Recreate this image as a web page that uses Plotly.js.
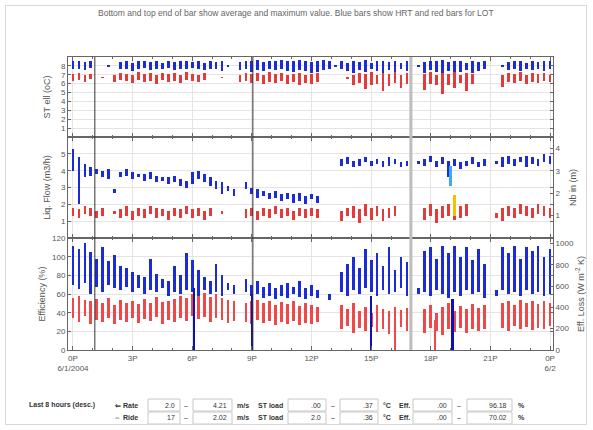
<!DOCTYPE html>
<html>
<head>
<meta charset="utf-8">
<script src="https://cdn.plot.ly/plotly-3.0.1.min.js"></script>
<style>
  html, body { margin:0; padding:0; background:#fff; }
  #wrap { position:relative; width:593px; height:430px; }
  #chart { width:593px; height:430px; }
  #frame { position:absolute; left:5px; top:5px; width:580px; height:418px; border:1px solid #d8d8d8; pointer-events:none; }
</style>
</head>
<body>
<div id="wrap"><div id="chart"></div><div id="frame"></div></div>
<script>
// ---------- DATA ----------
const hours = [0,0.3,0.6,0.9,1.2,1.5,1.8,2.1,2.4,2.7,
  3,3.3,3.6,3.9,4.2,4.5,4.8,5.1,5.4,5.7,
  6,6.3,6.6,6.9,7.2,7.5,7.8,8.1,8.4,8.7,
  9,9.3,9.6,9.9,10.2,10.5,10.8,11.1,11.4,11.7,
  12,12.3,12.6,12.9,13.2,13.5,13.8,14.1,14.4,14.7,
  15,15.3,15.6,15.9,16.2,16.5,16.8,17.1,17.4,17.7,
  18,18.3,18.6,18.9,19.2,19.5,19.8,20.1,20.4,20.7,
  21,21.3,21.6,21.9,22.2,22.5,22.8,23.1,23.4,23.7,
  24];

// Panel 1: ST ell (oC)
const blue1Avg = [7.6,7.7,7.5,7.8,null,null,7.9,null,7.6,7.7,
  7.4,7.6,7.8,7.5,7.7,7.6,7.8,7.5,7.7,7.6,
  7.8,7.7,7.5,7.6,7.7,7.4,7.9,null,7.5,7.6,
  7.3,7.5,7.4,7.6,7.5,7.7,7.4,7.3,7.5,7.4,
  7.2,7.3,7.5,7.6,7.9,7.6,7.4,7.2,7.5,7.3,
  7.6,7.4,7.1,7.5,7.3,7.6,7.4,null,7.9,7.2,
  7.5,7.3,7.0,7.4,6.9,7.3,7.5,7.2,7.4,7.6,
  null,null,7.9,7.5,7.6,7.4,7.7,7.5,7.6,7.4,
  7.6];
const blue1Max = [8.5,8.6,8.4,8.5,null,null,8.1,null,8.4,8.5,
  8.3,8.6,8.5,8.4,8.6,8.3,8.5,8.4,8.6,8.5,
  8.4,8.6,8.3,8.5,8.4,8.6,8.1,null,8.4,8.6,
  8.5,8.7,8.4,8.6,8.5,8.7,8.6,8.5,8.7,8.6,
  8.4,8.6,8.7,8.5,8.1,8.5,8.3,8.6,8.4,8.7,
  8.3,8.6,8.5,8.4,8.6,8.3,8.5,null,8.1,8.4,
  8.6,8.5,8.7,8.4,8.6,8.5,8.3,8.6,8.4,8.5,
  null,null,8.1,8.4,8.6,8.5,8.3,8.6,8.4,8.5,
  8.6];
const red1Avg = [6.3,6.4,6.2,6.5,null,6.6,null,6.2,6.4,6.3,
  6.1,6.4,6.2,6.3,6.0,6.4,6.2,6.3,6.1,6.4,
  6.3,6.2,6.4,null,null,6.6,null,null,6.2,6.3,
  6.1,6.3,6.0,6.2,6.1,6.3,6.0,6.2,5.9,6.1,
  6.0,6.2,null,null,null,null,6.5,5.8,6.1,5.4,
  5.9,6.0,5.2,5.7,6.1,5.5,6.0,null,null,5.3,
  6.0,5.8,4.8,5.9,5.5,6.1,5.2,6.0,null,null,
  null,null,5.6,6.2,6.1,6.3,6.0,6.2,6.1,6.3,
  6.2];
const red1Max = [7.1,7.2,7.0,7.1,null,6.8,null,7.0,7.2,7.1,
  7.0,7.3,7.1,7.2,7.0,7.2,7.1,7.2,7.0,7.3,
  7.1,7.0,7.2,null,null,6.8,null,null,7.0,7.2,
  7.1,7.2,7.0,7.3,7.1,7.2,7.0,7.1,7.2,7.0,
  7.1,7.2,null,null,null,null,6.7,7.0,7.2,7.1,
  7.3,7.0,7.2,7.1,7.3,7.0,7.2,null,null,7.1,
  7.3,7.0,7.2,7.1,7.3,7.0,7.2,7.1,null,null,
  null,null,7.0,7.2,7.1,7.3,7.0,7.2,7.1,7.2,
  7.0];

// Panel 2: Liq. Flow
const blue2Avg = [4.0,2.0,3.6,3.7,3.8,3.6,3.5,2.7,3.6,3.7,
  3.5,3.6,3.4,3.5,3.3,3.4,3.2,3.3,3.1,3.0,
  3.2,3.5,3.3,3.1,2.9,2.6,2.8,2.5,null,2.9,
  2.6,2.4,2.5,2.3,2.4,2.2,2.3,2.1,2.2,2.0,
  2.3,2.1,null,null,null,4.3,4.4,4.2,4.3,4.5,
  4.3,4.4,4.2,4.3,4.4,4.2,4.3,null,4.4,4.3,
  4.5,4.2,4.4,3.6,4.3,4.1,4.3,4.4,4.2,4.3,
  null,4.4,4.2,4.4,4.3,4.5,4.2,4.4,4.3,4.5,
  4.4];
const blue2Max = [5.3,4.8,4.4,4.2,4.1,4.0,4.1,2.9,3.9,4.1,
  3.9,3.8,3.8,3.9,3.7,3.6,3.6,3.7,3.5,3.4,
  3.9,4.0,3.8,3.6,3.4,3.3,3.1,2.9,null,3.3,
  3.0,2.9,2.8,2.7,2.8,2.6,2.7,2.6,2.7,2.5,
  2.6,2.5,null,null,null,4.7,4.8,4.6,4.7,4.8,
  4.6,4.7,4.6,4.8,4.7,4.5,4.6,null,4.6,4.7,
  4.9,4.6,4.8,4.6,4.7,4.5,4.6,4.8,4.5,4.7,
  null,4.6,4.8,4.9,4.7,4.8,4.9,4.8,4.7,5.0,
  4.9];
const red2Avg = [1.3,1.2,1.4,1.3,1.2,1.3,null,1.4,1.2,1.3,
  1.1,1.3,1.2,1.4,1.2,1.3,1.1,1.3,1.2,1.4,
  1.2,1.3,1.1,1.3,null,1.4,null,null,null,1.2,
  1.3,1.1,1.3,1.2,1.4,1.2,1.3,1.1,1.3,1.2,
  1.3,1.2,null,null,null,1.0,1.3,1.2,0.9,1.3,
  1.1,1.3,1.0,1.2,1.3,null,null,null,null,1.1,
  1.3,0.9,1.2,1.3,1.1,1.2,1.3,null,null,null,
  null,1.2,1.0,1.3,1.2,1.4,1.3,1.2,1.4,1.3,
  1.2];
const red2Max = [1.8,1.7,1.9,1.8,1.6,1.8,null,1.6,1.7,1.9,
  1.6,1.8,1.7,1.9,1.8,1.7,1.6,1.8,1.7,1.9,
  1.7,1.8,1.6,1.8,null,1.6,null,null,null,1.7,
  1.8,1.6,1.8,1.7,1.9,1.7,1.8,1.6,1.8,1.7,
  1.8,1.7,null,null,null,1.6,1.8,1.9,1.7,2.0,
  1.8,1.9,1.7,1.8,1.9,null,null,null,null,1.8,
  2.0,1.7,1.9,2.0,1.8,1.9,2.0,null,null,null,
  null,1.5,1.8,1.9,1.8,2.0,1.9,1.8,2.0,1.9,
  1.8];
const cyanHours = [19.0], cyanAvg = [3.1], cyanMax = [4.3];
const yellowHours = [19.2], yellowAvg = [1.0], yellowMax = [1.9];   // right axis (Nb in)

// Panel 3: Efficiency (%)
const blue3Avg = [70,65,72,60,68,62,70,66,64,68,
  62,66,60,64,62,66,58,62,60,64,
  62,58,64,60,62,58,64,60,null,62,
  58,60,56,58,55,58,56,60,57,55,
  58,56,null,54,null,62,58,64,60,66,
  62,58,64,60,62,66,58,null,60,62,
  58,64,60,56,62,58,64,60,62,56,
  null,58,64,60,62,58,64,60,62,58,
  60];
const blue3Max = [112,108,115,105,98,110,95,102,90,88,
  84,80,78,98,82,76,74,90,80,104,
  96,86,78,74,92,80,72,70,null,76,
  70,74,68,72,66,70,72,68,74,66,
  70,64,null,60,null,84,92,100,88,108,
  96,104,90,110,86,100,94,null,66,106,
  110,98,112,104,112,100,110,96,108,92,
  null,64,110,104,112,98,110,106,112,100,
  108];
const red3Avg = [34,30,36,28,32,30,34,28,32,30,
  34,29,33,31,35,28,32,30,34,31,
  36,33,35,30,34,32,29,31,null,30,
  28,32,29,31,27,30,28,31,27,29,
  28,30,null,null,null,22,26,18,24,20,
  25,19,23,17,22,25,20,null,null,18,
  24,20,16,22,19,24,18,23,20,22,
  null,null,24,20,26,22,25,21,24,22,
  26];
const red3Max = [56,58,54,52,55,50,56,48,54,50,
  52,49,55,50,57,51,53,55,58,56,
  60,58,61,57,60,56,54,52,null,50,
  52,54,50,53,48,51,49,52,47,50,
  48,46,null,null,null,48,44,50,42,46,
  40,48,44,42,46,43,45,null,null,44,
  48,40,46,50,42,47,44,49,45,48,
  null,null,50,52,48,54,50,53,49,52,
  50];
const spikeBlueHours = [6.1, 9.0, 15.0, 19.1], spikeBlueTop = [66, 60, 58, 55];
const spikeRedHours = [16.2, 18.2], spikeRedLoss = [200, 280];   // right axis (Eff. Loss)

// Axis ticks / labels
const xTickVals = [0,3,6,9,12,15,18,21,24];
const xTickText = ["0P<br>6/1/2004","3P","6P","9P","12P","15P","18P","21P","0P<br>6/2"];
const markerHours = [1.1, 9.05];   // dark vertical markers
const grayMarkerHours = [17.0];

// Bottom table
const tableTitle = "Last 8 hours (desc.)";
const rowLabels = ["⇐ Rate", "⇔ Ride"];
const rateLo = ["2.0", "17"], rateHi = ["4.21", "2.02"];
const loadLo = [".00", "2.0"], loadHi = [".37", ".36"];
const effLo = [".00", ".00"], effHi = ["96.18", "70.02"];
const units = ["m/s", "ST load", "°C", "Eff.", "%"];

const titleText = "Bottom and top end of bar show average and maximum value. Blue bars show HRT and red bars for LOT";

// ---------- BUILD ----------
const BLUE = '#1b2bd8', RED = '#e53a3a', RED3 = '#f04848';
function bars(t, avg, max, color, xa, ya, w) {
  return { type:'bar', x:t, base:avg,
    y: max.map((m,i) => (m==null || avg[i]==null) ? null : +(m - avg[i]).toFixed(3)),
    marker:{color:color, line:{width:0}}, width:w||0.14, xaxis:xa, yaxis:ya,
    hoverinfo:'skip', showlegend:false };
}
function zeros(a){ return a.map(()=>0); }

const traces = [
  bars(hours, blue1Avg, blue1Max, BLUE, 'x2', 'y'),
  bars(hours, red1Avg, red1Max, RED, 'x2', 'y'),
  bars(hours, blue2Avg, blue2Max, BLUE, 'x3', 'y2'),
  bars(hours, red2Avg, red2Max, RED, 'x3', 'y2'),
  bars(cyanHours, cyanAvg, cyanMax, '#3fa9f5', 'x3', 'y2'),
  bars(yellowHours, yellowAvg, yellowMax, '#f2c200', 'x3', 'y4'),
  bars(hours, red3Avg, red3Max, RED3, 'x', 'y3'),
  bars(hours, blue3Avg, blue3Max, BLUE, 'x', 'y3'),
  bars(spikeBlueHours, zeros(spikeBlueHours), spikeBlueTop, '#1010b0', 'x', 'y3', 0.12),
  bars(spikeRedHours, zeros(spikeRedHours), spikeRedLoss, RED3, 'x', 'y5', 0.12)
];

const W = 593, H = 430, ML = 68, MR = 40, MT = 57, MB = 80;
const PW = W - ML - MR, PH = H - MT - MB;
const px = v => (v - ML) / PW;
const py = v => (H - MB - v) / PH;

const tickFont = {family:'Liberation Sans, Arial, sans-serif', size:8, color:'#555'};
const titleFont = {family:'Liberation Sans, Arial, sans-serif', size:9, color:'#555'};
const gridC = '#e4e4e4', lineC = '#666';

const xBase = { range:[-0.25, 24.15], tickvals:xTickVals, ticks:'inside', ticklen:4, tickcolor:lineC,
  minor:{dtick:1, ticks:'inside', ticklen:2, tickcolor:lineC, showgrid:false},
  showgrid:true, gridcolor:gridC, showline:true, linecolor:lineC, linewidth:1, mirror:'ticks', zeroline:false, fixedrange:true };

const yBase = { ticks:'inside', ticklen:3, tickcolor:lineC, showline:true, linecolor:lineC, linewidth:1,
  mirror:'ticks', showgrid:true, gridcolor:gridC, zeroline:false, tickfont:tickFont, title:{font:titleFont, standoff:6} };

const d1 = [0.727, 1], d2 = [0.382, 0.727], d3 = [0, 0.382];

const layout = {
  width:W, height:H, margin:{l:ML, r:MR, t:MT, b:MB}, paper_bgcolor:'#fff', plot_bgcolor:'#fff',
  barmode:'overlay', bargap:0, showlegend:false, font:{family:'Liberation Sans, Arial, sans-serif'},
  xaxis: Object.assign({}, xBase, {anchor:'y3', ticktext:xTickText, tickfont:tickFont}),
  xaxis2: Object.assign({}, xBase, {anchor:'y', matches:'x', showticklabels:false}),
  xaxis3: Object.assign({}, xBase, {anchor:'y2', matches:'x', showticklabels:false}),
  yaxis: Object.assign({}, yBase, {domain:d1, anchor:'x2', range:[0,9], tickvals:[1,2,3,4,5,6,7,8],
    title:{text:'ST ell (oC)', font:titleFont, standoff:8}}),
  yaxis2: Object.assign({}, yBase, {domain:d2, anchor:'x3', range:[0,6], tickvals:[1,2,3,4,5],
    title:{text:'Liq. Flow (m3/h)', font:titleFont, standoff:8}}),
  yaxis3: Object.assign({}, yBase, {domain:d3, anchor:'x', range:[0,120], dtick:20,
    title:{text:'Efficiency (%)', font:titleFont, standoff:4}}),
  yaxis4: Object.assign({}, yBase, {overlaying:'y2', side:'right', anchor:'x3', range:[0,4.5], tickvals:[1,2,3,4],
    showgrid:false, mirror:false, title:{text:'Nb in (m)', font:titleFont, standoff:10}}),
  yaxis5: Object.assign({}, yBase, {overlaying:'y3', side:'right', anchor:'x', range:[0,1050], dtick:200,
    showgrid:false, mirror:false, title:{text:'Eff. Loss (W m<sup>-2</sup> K)', font:titleFont, standoff:4}}),
  shapes: [],
  annotations: []
};

markerHours.forEach(h => layout.shapes.push({type:'line', xref:'x', yref:'paper', x0:h, x1:h, y0:0, y1:1,
  line:{color:'#333', width:1}, layer:'above'}));
grayMarkerHours.forEach(h => layout.shapes.push({type:'line', xref:'x', yref:'paper', x0:h, x1:h, y0:0, y1:1,
  line:{color:'#bdbdbd', width:3}, layer:'above'}));

// Title
layout.annotations.push({xref:'paper', yref:'paper', x:px(296), y:py(13), text:titleText, showarrow:false,
  xanchor:'center', yanchor:'middle', font:{family:'Liberation Sans, Arial, sans-serif', size:8.5, color:'#666'}});

// Table
const tf = {family:'Liberation Sans, Arial, sans-serif', size:7, color:'#333'};
function txt(x, y, s, anchor, bold) {
  layout.annotations.push({xref:'paper', yref:'paper', x:px(x), y:py(y), text: bold ? '<b>'+s+'</b>' : s,
    showarrow:false, xanchor:anchor, yanchor:'middle', font:tf});
}
function box(x0, x1, yc) {
  layout.shapes.push({type:'rect', xref:'paper', yref:'paper', x0:px(x0), x1:px(x1), y0:py(yc+6), y1:py(yc-6),
    line:{color:'#c8c8c8', width:1}, fillcolor:'rgba(0,0,0,0)', layer:'above'});
}
const rowsY = [405, 418];
txt(97, rowsY[0], tableTitle, 'right', true);
rowsY.forEach((ry, r) => {
  txt(140, ry, rowLabels[r], 'right', true);
  box(148, 180, ry); txt(177, ry, rateLo[r], 'right'); txt(186, ry, '–', 'center');
  box(193, 232, ry); txt(229, ry, rateHi[r], 'right'); txt(235, ry, units[0], 'left', true);
  txt(256, ry, units[1], 'left', true);
  box(288, 326, ry); txt(323, ry, loadLo[r], 'right'); txt(333, ry, '–', 'center');
  box(340, 378, ry); txt(375, ry, loadHi[r], 'right'); txt(381, ry, units[2], 'left', true);
  txt(397, ry, units[3], 'left', true);
  box(413, 452, ry); txt(449, ry, effLo[r], 'right'); txt(459, ry, '–', 'center');
  box(467, 512, ry); txt(509, ry, effHi[r], 'right'); txt(516, ry, units[4], 'left', true);
});

Plotly.newPlot('chart', traces, layout, {displayModeBar:false, staticPlot:true});
</script>
</body>
</html>
